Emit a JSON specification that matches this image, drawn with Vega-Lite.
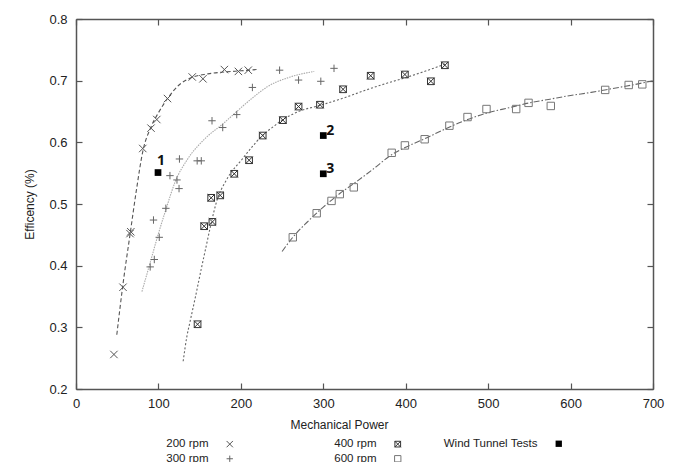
{
  "$schema": "https://vega.github.io/schema/vega-lite/v6.json",
  "width": 577,
  "height": 370,
  "autosize": {"type": "none"},
  "padding": {"left": 76, "top": 19, "right": 25, "bottom": 73},
  "background": "white",
  "config": {
    "view": {"stroke": null},
    "font": "Liberation Sans",
    "axis": {
      "grid": false,
      "domainColor": "#555",
      "domainWidth": 1.5,
      "tickColor": "#555",
      "tickWidth": 1.2,
      "labelFont": "Liberation Sans",
      "labelFontSize": 13,
      "labelColor": "#222",
      "titleFont": "Liberation Sans",
      "titleFontSize": 12,
      "titleFontWeight": "normal",
      "titleColor": "#222",
      "labelFlush": false,
      "labelOverlap": false
    }
  },
  "datasets": {
    "points": [
      {"series": "200 rpm", "x": 46, "y": 0.256},
      {"series": "200 rpm", "x": 57, "y": 0.365},
      {"series": "200 rpm", "x": 65.5, "y": 0.452},
      {"series": "200 rpm", "x": 66.5, "y": 0.455},
      {"series": "200 rpm", "x": 81, "y": 0.59},
      {"series": "200 rpm", "x": 91, "y": 0.623},
      {"series": "200 rpm", "x": 98, "y": 0.637},
      {"series": "200 rpm", "x": 111, "y": 0.671},
      {"series": "200 rpm", "x": 141, "y": 0.706},
      {"series": "200 rpm", "x": 154, "y": 0.703},
      {"series": "200 rpm", "x": 180, "y": 0.718},
      {"series": "200 rpm", "x": 197, "y": 0.715},
      {"series": "200 rpm", "x": 209, "y": 0.717},
      {"series": "300 rpm", "x": 90, "y": 0.398},
      {"series": "300 rpm", "x": 95, "y": 0.41},
      {"series": "300 rpm", "x": 101, "y": 0.446},
      {"series": "300 rpm", "x": 94, "y": 0.474},
      {"series": "300 rpm", "x": 109, "y": 0.493},
      {"series": "300 rpm", "x": 125, "y": 0.525},
      {"series": "300 rpm", "x": 122.5, "y": 0.539},
      {"series": "300 rpm", "x": 114, "y": 0.546},
      {"series": "300 rpm", "x": 125.5, "y": 0.573},
      {"series": "300 rpm", "x": 147, "y": 0.57},
      {"series": "300 rpm", "x": 152, "y": 0.57},
      {"series": "300 rpm", "x": 165, "y": 0.635},
      {"series": "300 rpm", "x": 178, "y": 0.624},
      {"series": "300 rpm", "x": 195, "y": 0.645},
      {"series": "300 rpm", "x": 214, "y": 0.689},
      {"series": "300 rpm", "x": 247, "y": 0.717},
      {"series": "300 rpm", "x": 270, "y": 0.701},
      {"series": "300 rpm", "x": 297, "y": 0.699},
      {"series": "300 rpm", "x": 313, "y": 0.72},
      {"series": "400 rpm", "x": 147.5, "y": 0.305},
      {"series": "400 rpm", "x": 155.5, "y": 0.464},
      {"series": "400 rpm", "x": 165.5, "y": 0.471},
      {"series": "400 rpm", "x": 164, "y": 0.51},
      {"series": "400 rpm", "x": 175, "y": 0.514},
      {"series": "400 rpm", "x": 192, "y": 0.549},
      {"series": "400 rpm", "x": 210, "y": 0.571},
      {"series": "400 rpm", "x": 226.5, "y": 0.611},
      {"series": "400 rpm", "x": 251, "y": 0.636},
      {"series": "400 rpm", "x": 270, "y": 0.658},
      {"series": "400 rpm", "x": 296, "y": 0.661},
      {"series": "400 rpm", "x": 324, "y": 0.686},
      {"series": "400 rpm", "x": 357.5, "y": 0.708},
      {"series": "400 rpm", "x": 399, "y": 0.71},
      {"series": "400 rpm", "x": 430.5, "y": 0.699},
      {"series": "400 rpm", "x": 447.5, "y": 0.725},
      {"series": "600 rpm", "x": 263, "y": 0.446},
      {"series": "600 rpm", "x": 292, "y": 0.485},
      {"series": "600 rpm", "x": 310, "y": 0.505},
      {"series": "600 rpm", "x": 320, "y": 0.516},
      {"series": "600 rpm", "x": 337, "y": 0.527},
      {"series": "600 rpm", "x": 383, "y": 0.583},
      {"series": "600 rpm", "x": 399, "y": 0.595},
      {"series": "600 rpm", "x": 423, "y": 0.605},
      {"series": "600 rpm", "x": 453, "y": 0.627},
      {"series": "600 rpm", "x": 475, "y": 0.641},
      {"series": "600 rpm", "x": 498, "y": 0.654},
      {"series": "600 rpm", "x": 534, "y": 0.654},
      {"series": "600 rpm", "x": 549, "y": 0.664},
      {"series": "600 rpm", "x": 576, "y": 0.659},
      {"series": "600 rpm", "x": 642, "y": 0.685},
      {"series": "600 rpm", "x": 670.5, "y": 0.693},
      {"series": "600 rpm", "x": 687, "y": 0.694}
    ],
    "curves": [
      {"curve": "200", "x": 49.5, "y": 0.288},
      {"curve": "200", "x": 57, "y": 0.37},
      {"curve": "200", "x": 65.7, "y": 0.452},
      {"curve": "200", "x": 73, "y": 0.52},
      {"curve": "200", "x": 81, "y": 0.585},
      {"curve": "200", "x": 91, "y": 0.625},
      {"curve": "200", "x": 100, "y": 0.648},
      {"curve": "200", "x": 111, "y": 0.671},
      {"curve": "200", "x": 125, "y": 0.693},
      {"curve": "200", "x": 140, "y": 0.705},
      {"curve": "200", "x": 160, "y": 0.711},
      {"curve": "200", "x": 180, "y": 0.714},
      {"curve": "200", "x": 200, "y": 0.716},
      {"curve": "200", "x": 219, "y": 0.718},
      {"curve": "300", "x": 80, "y": 0.358},
      {"curve": "300", "x": 90, "y": 0.405},
      {"curve": "300", "x": 100, "y": 0.452},
      {"curve": "300", "x": 110, "y": 0.495},
      {"curve": "300", "x": 120, "y": 0.535},
      {"curve": "300", "x": 135, "y": 0.572},
      {"curve": "300", "x": 155, "y": 0.604},
      {"curve": "300", "x": 180, "y": 0.632},
      {"curve": "300", "x": 195, "y": 0.65},
      {"curve": "300", "x": 215, "y": 0.673},
      {"curve": "300", "x": 232, "y": 0.69},
      {"curve": "300", "x": 260, "y": 0.706},
      {"curve": "300", "x": 289, "y": 0.715},
      {"curve": "400", "x": 130, "y": 0.245},
      {"curve": "400", "x": 134.5, "y": 0.285},
      {"curve": "400", "x": 138, "y": 0.307},
      {"curve": "400", "x": 145, "y": 0.35},
      {"curve": "400", "x": 152, "y": 0.395},
      {"curve": "400", "x": 158, "y": 0.432},
      {"curve": "400", "x": 163, "y": 0.463},
      {"curve": "400", "x": 172, "y": 0.51},
      {"curve": "400", "x": 180, "y": 0.533},
      {"curve": "400", "x": 187, "y": 0.549},
      {"curve": "400", "x": 200, "y": 0.57},
      {"curve": "400", "x": 212, "y": 0.59},
      {"curve": "400", "x": 226, "y": 0.611},
      {"curve": "400", "x": 240, "y": 0.626},
      {"curve": "400", "x": 250, "y": 0.636},
      {"curve": "400", "x": 270, "y": 0.65},
      {"curve": "400", "x": 296, "y": 0.66},
      {"curve": "400", "x": 325, "y": 0.672},
      {"curve": "400", "x": 350, "y": 0.684},
      {"curve": "400", "x": 375, "y": 0.695},
      {"curve": "400", "x": 400, "y": 0.705},
      {"curve": "400", "x": 425, "y": 0.716},
      {"curve": "400", "x": 448, "y": 0.727},
      {"curve": "600", "x": 250, "y": 0.423},
      {"curve": "600", "x": 263, "y": 0.446},
      {"curve": "600", "x": 280, "y": 0.47},
      {"curve": "600", "x": 300, "y": 0.495},
      {"curve": "600", "x": 320, "y": 0.517},
      {"curve": "600", "x": 340, "y": 0.536},
      {"curve": "600", "x": 360, "y": 0.556},
      {"curve": "600", "x": 383, "y": 0.58},
      {"curve": "600", "x": 400, "y": 0.592},
      {"curve": "600", "x": 425, "y": 0.607},
      {"curve": "600", "x": 450, "y": 0.623},
      {"curve": "600", "x": 475, "y": 0.637},
      {"curve": "600", "x": 500, "y": 0.648},
      {"curve": "600", "x": 525, "y": 0.656},
      {"curve": "600", "x": 550, "y": 0.664},
      {"curve": "600", "x": 575, "y": 0.67},
      {"curve": "600", "x": 600, "y": 0.676},
      {"curve": "600", "x": 625, "y": 0.681},
      {"curve": "600", "x": 650, "y": 0.687},
      {"curve": "600", "x": 675, "y": 0.693},
      {"curve": "600", "x": 700, "y": 0.7}
    ],
    "wt": [
      {"kind": "Wind Tunnel Tests", "label": "1", "x": 99.5, "y": 0.551},
      {"kind": "Wind Tunnel Tests", "label": "2", "x": 300, "y": 0.611},
      {"kind": "Wind Tunnel Tests", "label": "3", "x": 300, "y": 0.549}
    ]
  },
  "resolve": {
    "scale": {"shape": "independent", "stroke": "independent", "strokeDash": "independent", "color": "independent", "fill": "independent"},
    "axis": {"x": "independent", "y": "independent"}
  },
  "layer": [
    {
      "data": {"name": "curves"},
      "mark": {"type": "line", "strokeWidth": 1.1, "interpolate": "monotone"},
      "encoding": {
        "x": {"field": "x", "type": "quantitative", "scale": {"domain": [0, 700], "nice": false, "zero": false},
          "axis": {"orient": "top", "labels": false, "title": null, "values": [0, 100, 200, 300, 400, 500, 600, 700], "tickSize": -6}},
        "y": {"field": "y", "type": "quantitative", "scale": {"domain": [0.2, 0.8], "nice": false, "zero": false},
          "axis": {"orient": "right", "labels": false, "title": null, "values": [0.2, 0.3, 0.4, 0.5, 0.6, 0.7, 0.8], "tickSize": -6}},
        "stroke": {"field": "curve", "type": "nominal",
          "scale": {"domain": ["200", "300", "400", "600"], "range": ["#555555", "#aaaaaa", "#666666", "#666666"]}, "legend": null},
        "strokeDash": {"field": "curve", "type": "nominal",
          "scale": {"domain": ["200", "300", "400", "600"], "range": [[4, 2.5], [1.5, 1], [2, 2], [6, 2, 1.5, 2]]}, "legend": null}
      }
    },
    {
      "data": {"name": "points"},
      "mark": {"type": "point", "filled": false, "size": 55, "strokeWidth": 1, "opacity": 1},
      "encoding": {
        "x": {"field": "x", "type": "quantitative", "scale": {"domain": [0, 700], "nice": false, "zero": false},
          "axis": {"orient": "bottom", "title": "Mechanical Power", "values": [0, 100, 200, 300, 400, 500, 600, 700], "tickSize": -6, "labelPadding": 14, "titlePadding": 9, "titleX": 263}},
        "y": {"field": "y", "type": "quantitative", "scale": {"domain": [0.2, 0.8], "nice": false, "zero": false},
          "axis": {"orient": "left", "title": "Efficency (%)", "values": [0.2, 0.3, 0.4, 0.5, 0.6, 0.7, 0.8], "format": ".1f", "tickSize": -6, "labelPadding": 15, "titlePadding": 12}},
        "shape": {"field": "series", "type": "nominal",
          "scale": {"domain": ["200 rpm", "400 rpm", "300 rpm", "600 rpm"],
            "range": ["M-1,-1L1,1M-1,1L1,-1", "M-1,-1L1,1M-1,1L1,-1M-0.9,-0.9H0.9V0.9H-0.9Z", "M-1,0L1,0M0,-1L0,1", "square"]},
          "legend": {"orient": "none", "legendX": 148, "legendY": 419, "direction": "horizontal", "columns": 2, "title": null,
            "labelAlign": "right", "labelOffset": -27, "columnPadding": 99, "rowPadding": 2, "labelFontSize": 11.5, "labelFont": "Liberation Sans",
            "labelColor": "#222", "symbolSize": 40, "padding": 0, "symbolStrokeWidth": 1, "labelBaseline": "middle"}},
        "stroke": {"field": "series", "type": "nominal",
          "scale": {"domain": ["200 rpm", "400 rpm", "300 rpm", "600 rpm"], "range": ["#555555", "#333333", "#666666", "#777777"]},
          "legend": {"orient": "none", "legendX": 148, "legendY": 419, "direction": "horizontal", "columns": 2, "title": null,
            "labelAlign": "right", "labelOffset": -27, "columnPadding": 99, "rowPadding": 2, "labelFontSize": 11.5, "labelFont": "Liberation Sans",
            "labelColor": "#222", "symbolSize": 40, "padding": 0, "symbolStrokeWidth": 1, "labelBaseline": "middle"}}
      }
    },
    {
      "data": {"name": "wt"},
      "mark": {"type": "point", "filled": true, "size": 45, "opacity": 1, "color": "#000000"},
      "encoding": {
        "x": {"field": "x", "type": "quantitative", "axis": null},
        "y": {"field": "y", "type": "quantitative", "axis": null},
        "shape": {"field": "kind", "type": "nominal", "scale": {"range": ["square"]},
          "legend": {"orient": "none", "legendX": 477, "legendY": 419, "title": null, "labelAlign": "right", "labelOffset": -27,
            "labelFontSize": 11.5, "labelFont": "Liberation Sans", "labelColor": "#222", "symbolSize": 40, "padding": 0, "labelBaseline": "middle",
            "symbolFillColor": "#000000", "symbolStrokeColor": "#000000", "symbolStrokeWidth": 0}}
      }
    },
    {
      "data": {"name": "wt"},
      "transform": [{"filter": "datum.label === '1'"}],
      "mark": {"type": "text", "font": "Open Sans", "fontWeight": "bold", "fontSize": 14, "align": "left", "baseline": "alphabetic", "dx": -1, "dy": -8, "color": "#111"},
      "encoding": {
        "x": {"field": "x", "type": "quantitative", "axis": null},
        "y": {"field": "y", "type": "quantitative", "axis": null},
        "text": {"field": "label"}
      }
    },
    {
      "data": {"name": "wt"},
      "transform": [{"filter": "datum.label !== '1'"}],
      "mark": {"type": "text", "font": "Open Sans", "fontWeight": "bold", "fontSize": 14, "align": "left", "baseline": "alphabetic", "dx": 3, "dy": -1, "color": "#111"},
      "encoding": {
        "x": {"field": "x", "type": "quantitative", "axis": null},
        "y": {"field": "y", "type": "quantitative", "axis": null},
        "text": {"field": "label"}
      }
    }
  ]
}
